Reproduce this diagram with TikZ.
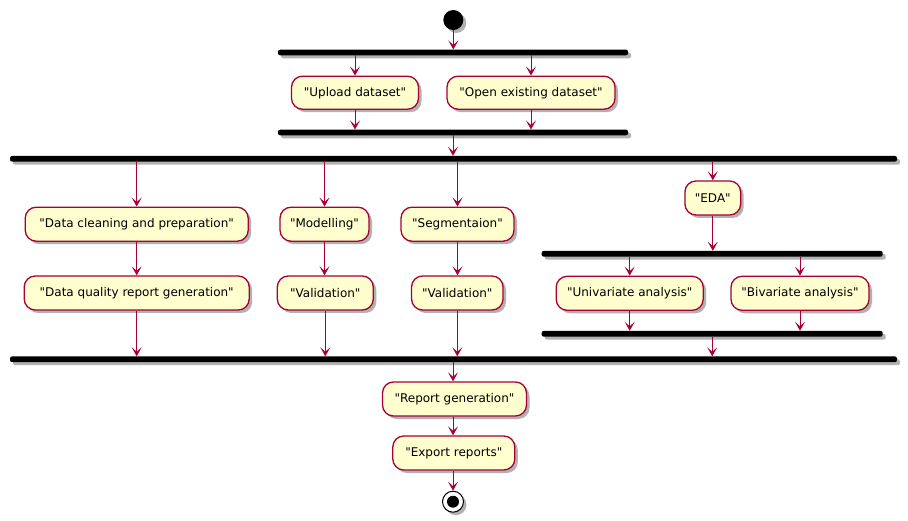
\documentclass[tikz,border=0pt]{standalone}
\usepackage{fontspec}
\setmainfont{DejaVu Sans}[Ligatures=TeXOff]
\usetikzlibrary{arrows.meta,shadows}
\definecolor{boxfill}{HTML}{FEFECE}
\definecolor{boxline}{HTML}{A80036}
\begin{document}
\begin{tikzpicture}[x=1pt,y=-1pt,
  shad/.style={drop shadow={shadow xshift=3pt,shadow yshift=-3pt,opacity=0.3,fill=black}},
  act/.style={draw=boxline,fill=boxfill,line width=1.3pt,rounded corners=11pt,
    minimum height=34pt,inner sep=0pt,font=\fontsize{12}{14}\selectfont,shad},
  bar/.style={fill=black,draw=none,rounded corners=2pt,minimum height=5.6pt,inner sep=0pt,shad},
  arr/.style={draw=boxline,line width=1pt,-{Stealth[length=9pt,width=10pt,inset=4.5pt]}}]
\useasboundingbox (0,0) rectangle (908,521);
% start
\node[circle,fill=black,minimum size=20pt,inner sep=0pt,shad] (start) at (453.3,20) {};
% bars
\node[bar,minimum width=350pt] (b1) at (453,52.5) {};
\node[bar,minimum width=350pt] (b2) at (453,132.5) {};
\node[bar,minimum width=887pt] (b3) at (453.5,158.8) {};
\node[bar,minimum width=887pt] (b4) at (453.5,359.3) {};
\node[bar,minimum width=341pt] (b5) at (712.2,253.8) {};
\node[bar,minimum width=341pt] (b6) at (712.2,333.8) {};
% activities
\node[act,minimum width=127pt,minimum height=33pt] (up) at (355,92.7) {"Upload dataset"};
\node[act,minimum width=168pt,minimum height=33pt] (open) at (531,92.7) {"Open existing dataset"};
\node[act,minimum width=223pt] (clean) at (136.7,224.2) {"Data cleaning and preparation"};
\node[act,minimum width=225pt] (quality) at (136.7,293) {"Data quality report generation"};
\node[act,minimum width=89pt] (model) at (324.5,224.2) {"Modelling"};
\node[act,minimum width=96pt] (val1) at (325.3,293) {"Validation"};
\node[act,minimum width=113pt] (seg) at (457.5,224.2) {"Segmentaion"};
\node[act,minimum width=91.5pt] (val2) at (457.3,293) {"Validation"};
\node[act,minimum width=55.7pt] (eda) at (712.8,198) {"EDA"};
\node[act,minimum width=147pt] (uni) at (629.7,293.3) {"Univariate analysis"};
\node[act,minimum width=138pt] (bi) at (800,293.3) {"Bivariate analysis"};
\node[act,minimum width=144pt] (rep) at (454.5,399) {"Report generation"};
\node[act,minimum width=122pt] (exp) at (453.8,453) {"Export reports"};
% end
\node[circle,draw=black,line width=1pt,fill=white,minimum size=21pt,inner sep=0pt,shad] (stop) at (453,501.7) {};
\fill[black] (stop.center) circle (6pt);
% connectors
\draw[arr] (start) -- (start.south |- b1.north);
\draw[arr] (b1.south -| up.north) -- (up.north);
\draw[arr] (b1.south -| open.north) -- (open.north);
\draw[arr] (up.south) -- (up.south |- b2.north);
\draw[arr] (open.south) -- (open.south |- b2.north);
\coordinate (c23) at (453,0);
\draw[arr] (b2.south -| c23) -- (b3.north -| c23);
\draw[arr] (b3.south -| clean.north) -- (clean.north);
\draw[arr] (b3.south -| model.north) -- (model.north);
\draw[arr] (b3.south -| seg.north) -- (seg.north);
\draw[arr] (b3.south -| eda.north) -- (eda.north);
\draw[arr] (clean) -- (quality);
\draw[arr] (model.south) -- (model.south |- val1.north);
\draw[arr] (seg.south) -- (seg.south |- val2.north);
\draw[arr] (quality.south) -- (quality.south |- b4.north);
\draw[arr] (val1.south) -- (val1.south |- b4.north);
\draw[arr] (val2.south) -- (val2.south |- b4.north);
\draw[arr] (eda.south) -- (eda.south |- b5.north);
\draw[arr] (b5.south -| uni.north) -- (uni.north);
\draw[arr] (b5.south -| bi.north) -- (bi.north);
\draw[arr] (uni.south) -- (uni.south |- b6.north);
\draw[arr] (bi.south) -- (bi.south |- b6.north);
\draw[arr] (b6.south) -- (b6.south |- b4.north);
\draw[arr] (b4.south -| c23) -- (rep.north -| c23);
\draw[arr] (rep.south -| c23) -- (exp.north -| c23);
\draw[arr] (exp.south -| c23) -- (stop.north);
\end{tikzpicture}
\end{document}
